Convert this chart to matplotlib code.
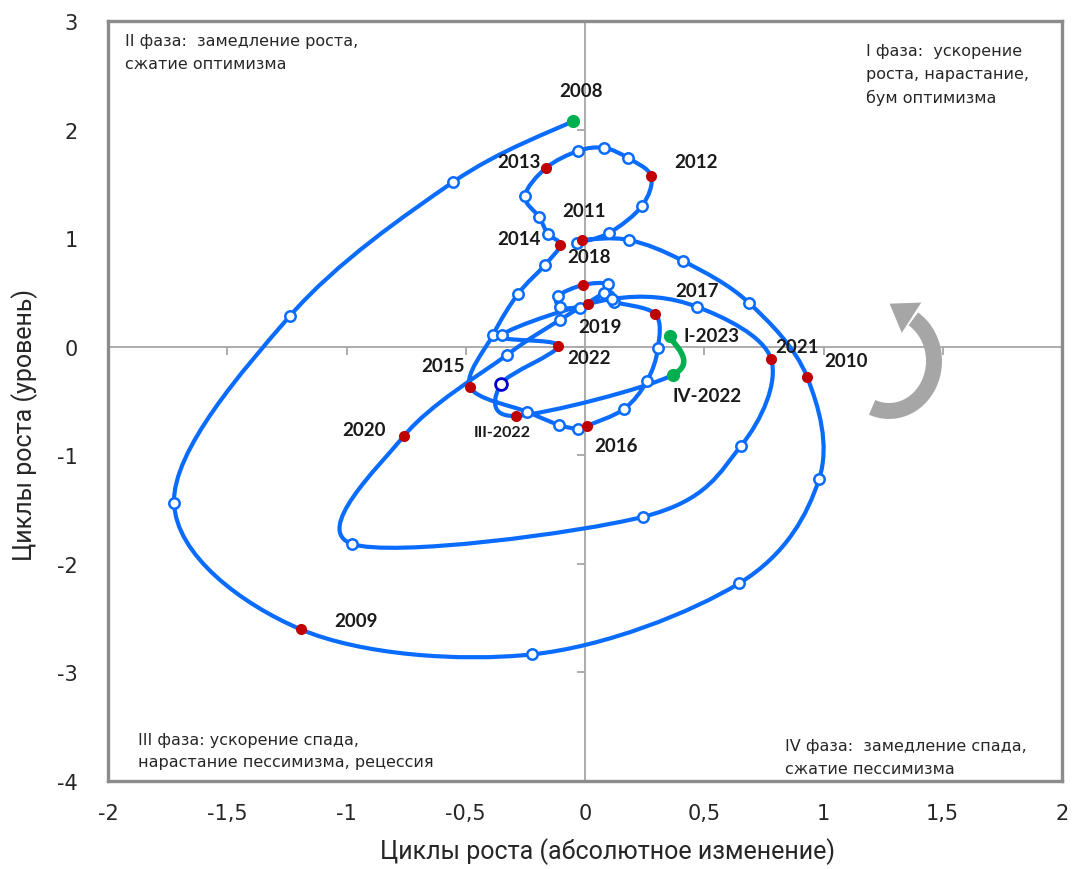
import numpy as np
import matplotlib
matplotlib.use('Agg')
import matplotlib.pyplot as plt
from matplotlib.path import Path
from matplotlib.patches import PathPatch, Arc, Polygon
from matplotlib.transforms import IdentityTransform

# Quarterly points of the growth-cycle trajectory, 2008-I ... 2023-I
periods = [f'{yr}-{q}' for yr in range(2008, 2023) for q in ('I', 'II', 'III', 'IV')] + ['2023-I']

# Циклы роста (абсолютное изменение)
x_change = [
    -0.050, -0.553, -1.237, -1.723,   # 2008
    -1.191, -0.222, 0.646, 0.981,     # 2009
    0.931, 0.688, 0.411, 0.184,       # 2010
    -0.013, -0.034, 0.101, 0.239,     # 2011
    0.277, 0.180, 0.080, -0.029,      # 2012
    -0.164, -0.252, -0.193, -0.155,   # 2013
    -0.105, -0.168, -0.281, -0.386,   # 2014
    -0.482, -0.243, -0.109, -0.029,   # 2015
    0.008, 0.164, 0.260, 0.306,       # 2016
    0.294, 0.122, 0.101, 0.096,       # 2017
    -0.008, -0.113, -0.105, -0.021,   # 2018
    0.013, 0.080, -0.105, -0.327,     # 2019
    -0.759, -0.977, 0.243, 0.654,     # 2020
    0.780, 0.470, 0.113, -0.348,      # 2021
    -0.113, -0.352, -0.289, 0.369,    # 2022
    0.356,                            # 2023
]

# Циклы роста (уровень)
y_level = [
    2.079, 1.517, 0.284, -1.438,
    -2.604, -2.834, -2.180, -1.223,
    -0.278, 0.403, 0.790, 0.983,
    0.983, 0.956, 1.048, 1.297,
    1.573, 1.738, 1.831, 1.803,
    1.646, 1.389, 1.196, 1.039,
    0.937, 0.753, 0.486, 0.109,
    -0.370, -0.600, -0.720, -0.757,
    -0.729, -0.573, -0.315, -0.011,
    0.302, 0.413, 0.468, 0.578,
    0.569, 0.468, 0.366, 0.357,
    0.394, 0.495, 0.247, -0.075,
    -0.822, -1.816, -1.567, -0.913,
    -0.112, 0.367, 0.440, 0.109,
    0.007, -0.343, -0.637, -0.259,
    0.100,
]

green_points = ['2008-I', '2022-IV', '2023-I']
ring_points = ['2022-II']
red_points = [f'{yr}-I' for yr in range(2009, 2023)] + ['2022-III']

point_labels = {
    '2008-I': '2008', '2009-I': '2009', '2010-I': '2010', '2011-I': '2011',
    '2012-I': '2012', '2013-I': '2013', '2014-I': '2014', '2015-I': '2015',
    '2016-I': '2016', '2017-I': '2017', '2018-I': '2018', '2019-I': '2019',
    '2020-I': '2020', '2021-I': '2021', '2022-I': '2022',
    '2022-III': 'III-2022', '2022-IV': 'IV-2022', '2023-I': 'I-2023',
}

x_ticks = [-2, -1.5, -1, -0.5, 0, 0.5, 1, 1.5, 2]
y_ticks = [-4, -3, -2, -1, 0, 1, 2, 3]

phase_texts = [
    'II фаза:  замедление роста,\nсжатие оптимизма',
    'I фаза:  ускорение\nроста, нарастание,\nбум оптимизма',
    'III фаза: ускорение спада,\nнарастание пессимизма, рецессия',
    'IV фаза:  замедление спада,\nсжатие пессимизма',
]

LINE = '#0a6cff'
RED = '#c00000'
GREEN = '#00b050'
GRAY = '#a6a6a6'


def bezier_segments(xs, ys):
    # smoothed line like Excel: cubic pieces with Catmull-Rom tangents
    P = np.column_stack([xs, ys])
    n = len(P)
    segs = []
    for i in range(n - 1):
        p0 = P[i - 1] if i > 0 else P[i]
        p3 = P[i + 2] if i + 2 < n else P[i + 1]
        c1 = P[i] + (P[i + 1] - p0) / 6
        c2 = P[i + 1] - (p3 - P[i]) / 6
        segs.append((P[i], c1, c2, P[i + 1]))
    return segs


def make_path(segs):
    verts = [segs[0][0]]
    codes = [Path.MOVETO]
    for _, c1, c2, end in segs:
        verts += [c1, c2, end]
        codes += [Path.CURVE4] * 3
    return Path(verts, codes)


fig = plt.figure(figsize=(10.74, 8.70), dpi=100)
ax = fig.add_axes([108 / 1074, 1 - 782 / 870, 954 / 1074, 760 / 870])
ax.set_xlim(-2, 2)
ax.set_ylim(-4, 3)

# Zero cross lines with their small ticks
ax.axhline(0, color=GRAY, lw=1.3, zorder=1)
ax.axvline(0, color=GRAY, lw=1.3, zorder=1)
ax.plot(np.zeros(len(y_ticks)), y_ticks, ls='none', marker=0, ms=6,
        mew=1.3, color=GRAY, zorder=1, clip_on=False)
ax.plot(x_ticks, np.zeros(len(x_ticks)), ls='none', marker=3, ms=6,
        mew=1.3, color=GRAY, zorder=1, clip_on=False)

# Trajectory: blue up to IV-2022, green last step
segs = bezier_segments(x_change, y_level)
ax.add_patch(PathPatch(make_path(segs[:-1]), fill=False, ec=LINE, lw=3.0,
                       capstyle='round', joinstyle='round', zorder=3))
ax.add_patch(PathPatch(make_path(segs[-1:]), fill=False, ec=GREEN, lw=4.0,
                       capstyle='round', zorder=4))

xs = np.array(x_change)
ys = np.array(y_level)
idx = {p: i for i, p in enumerate(periods)}
red_i = [idx[p] for p in red_points]
green_i = [idx[p] for p in green_points]
ring_i = [idx[p] for p in ring_points]
white_i = [i for i in range(len(periods))
           if i not in red_i + green_i + ring_i]

ax.plot(xs[white_i], ys[white_i], ls='none', marker='o', ms=7.5,
        mfc='white', mec=LINE, mew=1.8, zorder=5)
ax.plot(xs[red_i], ys[red_i], ls='none', marker='o', ms=8,
        mfc=RED, mec=RED, mew=0, zorder=6)
ax.plot(xs[ring_i], ys[ring_i], ls='none', marker='o', ms=8.5,
        mfc='white', mec='#0000cc', mew=2.0, zorder=6)
ax.plot(xs[green_i], ys[green_i], ls='none', marker='o', ms=9.5,
        mfc=GREEN, mec=GREEN, mew=0, zorder=6)

# Year labels, offsets in pixels from their points
label_offsets = {
    '2008-I': (8, 30), '2009-I': (55, 9), '2010-I': (39, 16),
    '2011-I': (2, 29), '2012-I': (45, 14), '2013-I': (-27, 7),
    '2014-I': (-41, 6), '2015-I': (-27, 21), '2016-I': (29, -20),
    '2017-I': (42, 23), '2018-I': (6, 28), '2019-I': (12, -23),
    '2020-I': (-40, 6), '2021-I': (26, 12), '2022-I': (31, -12),
    '2022-III': (-14, -16), '2022-IV': (34, -21), '2023-I': (42, 0),
}
for p, txt in point_labels.items():
    i = idx[p]
    size = 11.5 if p == '2022-III' else 13.5
    ax.annotate(txt, (xs[i], ys[i]), xytext=label_offsets[p],
                textcoords='offset pixels', ha='center', va='center',
                fontsize=size, fontweight='bold', family='Lato',
                color='#1a1a1a', zorder=7)

# Phase captions
phase_pos = [(0.0178, 0.9592), (0.7945, 0.9303), (0.0314, 0.0401), (0.7096, 0.0316)]
for txt, (px, py) in zip(phase_texts, phase_pos):
    ax.text(px, py, txt, transform=ax.transAxes, ha='left', va='center',
            fontsize=11.5, linespacing=1.6, color='#262626', family='DejaVu Sans')

# Rotation arrow (gray arc with a head), drawn in output pixels
cx, cy, rx, ry = 889, 870 - 362, 45, 50
t_end = np.radians(60)
fig.add_artist(Arc((cx, cy), 2 * rx, 2 * ry, theta1=-110, theta2=60,
                   transform=IdentityTransform(), color=GRAY, lw=11.5,
                   capstyle='butt'))
end = np.array([cx + rx * np.cos(t_end), cy + ry * np.sin(t_end)])
tang = np.array([-rx * np.sin(t_end), ry * np.cos(t_end)])
tang /= np.hypot(*tang)
norm = np.array([tang[1], -tang[0]])
head = [end + 18 * norm, end + 26 * tang, end - 18 * norm]
fig.add_artist(Polygon(head, closed=True, transform=IdentityTransform(),
                       fc=GRAY, ec='none'))

# Frame, ticks, axis titles
for s in ax.spines.values():
    s.set_color('#8c8c8c')
    s.set_linewidth(2.4)
ax.set_xticks(x_ticks)
ax.set_xticklabels([f'{t:g}'.replace('.', ',') for t in x_ticks])
ax.set_yticks(y_ticks)
ax.set_yticklabels([f'{t:g}' for t in y_ticks])
ax.tick_params(length=0, labelsize=15, colors='#262626')
ax.tick_params(axis='x', pad=16)
ax.tick_params(axis='y', pad=22)

ax.set_xlabel('Циклы роста (абсолютное изменение)', fontsize=18,
              family='Roboto', color='#262626')
ax.xaxis.set_label_coords(0.524, -0.091)
ax.xaxis.label.set_va('center')
ax.set_ylabel('Циклы роста (уровень)', fontsize=18, family='Roboto',
              color='#262626')
ax.yaxis.set_label_coords(-0.087, 0.47)
ax.yaxis.label.set_va('center')

plt.savefig('out.png', dpi=100)
